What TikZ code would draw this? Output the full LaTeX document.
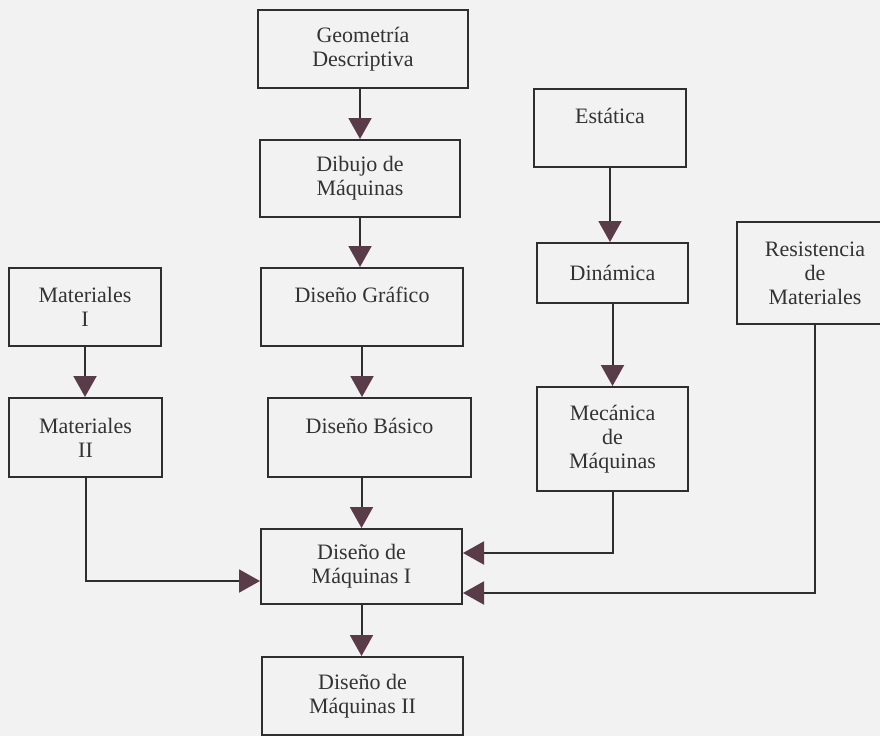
\documentclass[tikz,border=0pt]{standalone}
\usepackage{fontspec}
\setmainfont{Liberation Serif}
\usepackage{xcolor}
\usetikzlibrary{arrows.meta}

\definecolor{paper}{HTML}{F2F2F2}
\definecolor{linecol}{HTML}{2E2E2E}
\definecolor{tipcol}{HTML}{5A3B48}

\begin{document}
\begin{tikzpicture}[x=1pt, y=-1pt,
  >={Triangle[length=21pt,width=23pt,color=tipcol]},
  box/.style={draw=linecol, line width=2pt, align=center, inner sep=0pt,
    font=\fontsize{22}{24}\selectfont, text=black!80},
  flow/.style={->, draw=linecol, line width=2pt}]

\fill[paper] (0,0) rectangle (880,736);
\clip (0,0) rectangle (880,736);

\node[box, minimum width=210pt, minimum height=78pt] (geo) at (363,49) {Geometría\\Descriptiva};
\node[box, minimum width=200pt, minimum height=77pt] (dib) at (360,178.5) {Dibujo de\\Máquinas};
\node[box, minimum width=202pt, minimum height=78pt] (dgraf) at (362,307) {Diseño Gráfico\\ \mbox{}};
\node[box, minimum width=203pt, minimum height=79pt] (dbas) at (369.5,437.5) {Diseño Básico\\ \mbox{}};
\node[box, minimum width=201pt, minimum height=75pt] (dm1) at (361.5,566.5) {Diseño de\\Máquinas I};
\node[box, minimum width=201pt, minimum height=78pt] (dm2) at (362.5,696) {Diseño de\\Máquinas II};

\node[box, minimum width=152pt, minimum height=78pt] (mat1) at (85,307) {Materiales\\I};
\node[box, minimum width=153pt, minimum height=79pt] (mat2) at (85.5,437.5) {Materiales\\II};

\node[box, minimum width=152pt, minimum height=78pt] (est) at (610,128) {Estática\\ \mbox{}};
\node[box, minimum width=151pt, minimum height=60pt] (din) at (612.5,273) {Dinámica};
\node[box, minimum width=151pt, minimum height=104pt] (mec) at (612.5,439) {Mecánica\\de\\Máquinas};
\node[box, minimum width=156pt, minimum height=102pt] (res) at (815,273) {Resistencia\\de\\Materiales};

\draw[flow] (geo.south -| dib.north) -- (dib.north);
\draw[flow] (dib.south) -- (dib.south |- dgraf.north);
\draw[flow] (dgraf.south) -- (dgraf.south |- dbas.north);
\draw[flow] (dm1.north |- dbas.south) -- (dm1.north);
\draw[flow] (dm1.south) -- (dm1.south |- dm2.north);

\draw[flow] (mat1.south) -- (mat1.south |- mat2.north);
\draw[flow] (mat2.south) |- ([yshift=-14.5pt]dm1.west);

\draw[flow] (est.south) -- (est.south |- din.north);
\draw[flow] (din.south) -- (din.south |- mec.north);
\draw[flow] (mec.south) |- ([yshift=13.5pt]dm1.east);
\draw[flow] (res.south) |- ([yshift=-26.5pt]dm1.east);

\end{tikzpicture}
\end{document}
